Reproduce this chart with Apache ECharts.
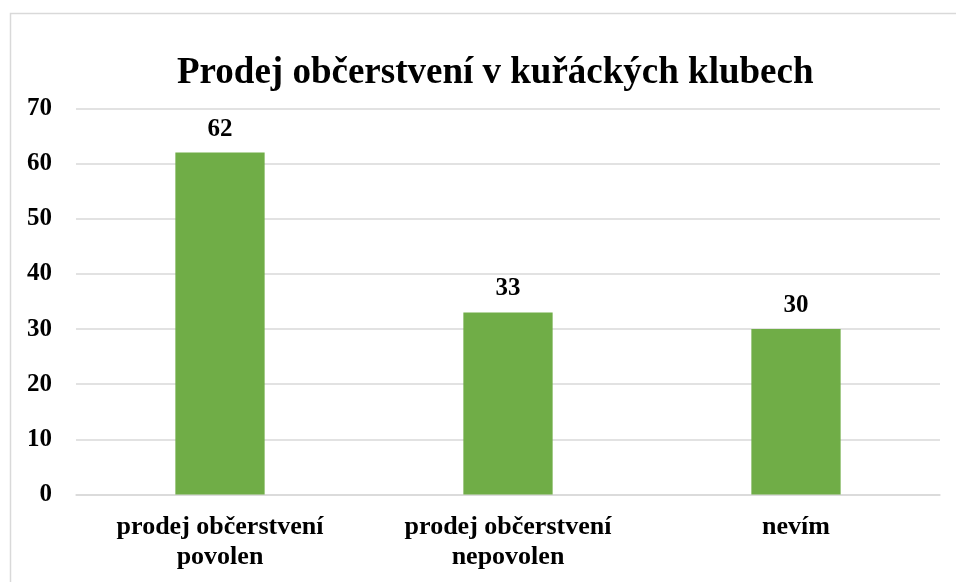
<!DOCTYPE html>
<html>
<head>
<meta charset="utf-8">
<script src="https://cdn.jsdelivr.net/npm/echarts@6/dist/echarts.min.js"></script>
<style>
  html, body { margin: 0; padding: 0; background: #fff; }
  #chart { width: 956px; height: 582px; }
</style>
</head>
<body>
<div id="chart"></div>
<script>
// kategorie a hodnoty
const categories = ["prodej občerstvení\npovolen", "prodej občerstvení\nnepovolen", "nevím"];
const values = [62, 33, 30];
const yTicks = [0, 10, 20, 30, 40, 50, 60, 70];

const font = "'Liberation Serif', 'Times New Roman', serif";

const chart = echarts.init(document.getElementById("chart"));

chart.setOption({
  animation: false,
  title: {
    text: "Prodej občerstvení v kuřáckých klubech",
    left: 172,
    top: 50,
    textStyle: { fontFamily: font, fontSize: 37, fontWeight: "bold", color: "#000" },
  },
  graphic: [
    {
      type: "rect",
      shape: { x: 10.5, y: 13.5, width: 960, height: 600 },
      style: { fill: "none", stroke: "#d9d9d9", lineWidth: 1.5 },
      silent: true,
    },
  ],
  grid: { left: 76, right: 16, top: 108.5, bottom: 87.5 },
  xAxis: {
    type: "category",
    data: categories,
    axisTick: { show: false },
    axisLine: { lineStyle: { color: "#d9d9d9", width: 1.5 } },
    axisLabel: {
      fontFamily: font, fontSize: 26, fontWeight: "bold", color: "#000",
      margin: 18, lineHeight: 30,
    },
  },
  yAxis: {
    type: "value",
    min: yTicks[0],
    max: yTicks[yTicks.length - 1],
    interval: 10,
    axisLine: { show: false },
    axisTick: { show: false },
    splitLine: { lineStyle: { color: "#d9d9d9", width: 1.5 } },
    axisLabel: {
      fontFamily: font, fontSize: 25, fontWeight: "bold", color: "#000", margin: 24,
    },
  },
  series: [
    {
      type: "bar",
      data: values,
      barWidth: "31%",
      itemStyle: { color: "#70ad47" },
      label: {
        show: true,
        position: "top",
        distance: 11,
        fontFamily: font, fontSize: 25, fontWeight: "bold", color: "#000",
      },
    },
  ],
});
</script>
</body>
</html>
